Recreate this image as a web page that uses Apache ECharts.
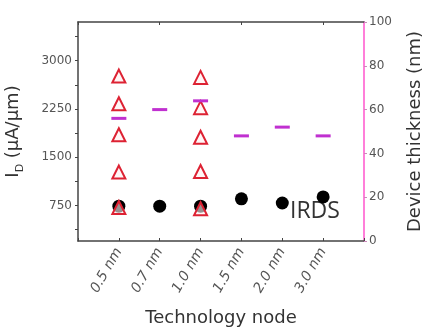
<!DOCTYPE html>
<html><head><meta charset="utf-8">
<script src="https://cdn.jsdelivr.net/npm/echarts@6/dist/echarts.min.js"></script>
<style>html,body{margin:0;padding:0;background:#fff}#c{width:424px;height:331px}</style>
</head><body><div id="c"></div>
<script>
// Categories (padded with empty slots at both ends)
const categories = ['', '0.5 nm', '0.7 nm', '1.0 nm', '1.5 nm', '2.0 nm', '3.0 nm', ''];
const nodes = ['0.5 nm', '0.7 nm', '1.0 nm', '1.5 nm', '2.0 nm', '3.0 nm'];
// Simulated I_D (uA/um), open triangles
const ionSim05 = [2760, 2330, 1850, 1270, 720];
const ionSim10 = [2740, 2270, 1810, 1280, 700];
// IRDS I_D (uA/um), black circles
const ionIRDS = [740, 740, 740, 855, 790, 885];
// Device thickness (nm), magenta dashes, right axis
const thickness = [56, 60, 64, 48, 52, 48];
// Tick labels
const leftLabels = [750, 1500, 2250, 3000];
const leftTicks = [375, 750, 1125, 1500, 1875, 2250, 2625, 3000, 3375];

const FONT = 'DejaVu Sans';
const triData = ionSim05.map(v => ['0.5 nm', v]).concat(ionSim10.map(v => ['1.0 nm', v]));
const irdsData = nodes.map((n, i) => [n, ionIRDS[i]]);
const thkData = nodes.map((n, i) => [n, thickness[i]]);

const chart = echarts.init(document.getElementById('c'), null, {renderer: 'canvas'});
chart.setOption({
  animation: false,
  grid: {left: 78, top: 22, right: 60, bottom: 90, containLabel: false, outerBoundsMode: 'none'},
  xAxis: [{
    type: 'category', data: categories, boundaryGap: false, position: 'bottom',
    axisLine: {lineStyle: {color: '#444', width: 1.5}},
    axisTick: {inside: true, length: 3, lineStyle: {color: '#444'}},
    axisLabel: {rotate: 60, margin: 8, fontSize: 14, fontStyle: 'italic', fontFamily: FONT, color: '#555', interval: 0},
    name: 'Technology node', nameLocation: 'middle', nameGap: 68,
    nameTextStyle: {fontSize: 18, fontFamily: FONT, color: '#333'}
  }, {
    type: 'category', data: categories, boundaryGap: false, position: 'top',
    axisLine: {lineStyle: {color: '#444', width: 1.5}},
    axisTick: {inside: true, length: 3, lineStyle: {color: '#444'}},
    axisLabel: {show: false}
  }],
  yAxis: [{
    type: 'value', min: 200, max: 3600, position: 'left',
    splitLine: {show: false},
    axisLine: {show: true, lineStyle: {color: '#444', width: 1.5}},
    axisTick: {show: true, length: 3, customValues: leftTicks, lineStyle: {color: '#444'}},
    axisLabel: {customValues: leftLabels, formatter: v => String(v), fontSize: 12, fontFamily: FONT, color: '#555', margin: 6},
    name: '{i|I}{s|D}{i| (µA/µm)}', nameLocation: 'middle', nameGap: 52, nameRotate: 90,
    nameTextStyle: {fontFamily: FONT, color: '#333', rich: {
      i: {fontSize: 18, fontFamily: FONT, color: '#333'},
      s: {fontSize: 11, fontFamily: FONT, color: '#333', padding: [14, 0, 0, 0]}
    }}
  }, {
    type: 'value', min: 0, max: 100, interval: 20, position: 'right',
    splitLine: {show: false},
    axisLine: {show: true, lineStyle: {color: '#ff55cc', width: 1.5}},
    axisTick: {show: true, length: 3, lineStyle: {color: '#cc88bb'}},
    axisLabel: {fontSize: 12, fontFamily: FONT, color: '#555', margin: 5},
    name: 'Device thickness (nm)', nameLocation: 'middle', nameGap: 42, nameRotate: 90,
    nameTextStyle: {fontSize: 18, fontFamily: FONT, color: '#333'}
  }],
  series: [{
    type: 'scatter', name: 'IRDS', data: irdsData, xAxisIndex: 0, yAxisIndex: 0,
    symbol: 'circle', symbolSize: 13, itemStyle: {color: '#000', opacity: 1}, z: 2
  }, {
    type: 'scatter', name: 'Simulated', data: triData, xAxisIndex: 0, yAxisIndex: 0,
    symbol: 'triangle', symbolSize: 13,
    itemStyle: {color: 'rgba(255,240,240,0.6)', borderColor: '#dd2233', borderWidth: 2, opacity: 1}, z: 3
  }, {
    type: 'scatter', name: 'Thickness', data: thkData, xAxisIndex: 0, yAxisIndex: 1,
    symbol: 'rect', symbolSize: [15, 3], itemStyle: {color: '#c030d0', opacity: 1}, z: 4
  }],
  graphic: [{
    type: 'text', left: 290, top: 200,
    style: {text: 'IRDS', fontSize: 23, fontFamily: 'Open Sans', fill: '#333'}
  }]
});
</script></body></html>
